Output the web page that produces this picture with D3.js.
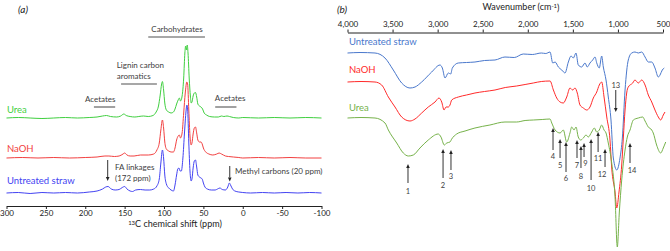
<!DOCTYPE html>
<html><head><meta charset="utf-8">
<script src="https://cdn.jsdelivr.net/npm/d3@7"></script>
<style>body{margin:0;background:#fff}svg{display:block;font-family:Lato,"Open Sans",sans-serif}</style>
</head><body><svg id="c" width="670" height="251"></svg>
<script>
// ---------- Panel (a): 13C NMR ----------
const nmrNames = ["Urea", "NaOH", "Untreated straw"];
const ppmTicks = [300, 250, 200, 150, 100, 50, 0, -50, -100];
const nmrUrea = [[300,0],[285,0.5],[270,0],[255,-0.5],[240,0],[225,0.5],[210,0],[195,0.5],[185,1],[178,2],[173,2.5],[168,1.5],[160,1],[155,2],[151,4],[148,2.5],[143,1.5],[137,1],[132,1.5],[126,2],[120,1.5],[114,2.5],[110,6],[107,12],[105,22],[103,34],[102,36.5],[100.5,28],[99,15],[97,8],[94,6],[91,5],[88,6],[86,9],[84,14],[82,18],[80.5,20],[79,17],[77,22],[75,40],[73.5,65],[72.5,72],[71.5,68],[70.5,73],[69.5,65],[68,40],[66.5,22],[65.5,15],[64.5,16],[63,22],[61.5,25],[60,25.5],[58.5,21],[57,14],[55,12],[53,11],[51,9],[49,5],[46,3],[42,1.5],[36,1],[31,1],[27,2],[24,1.5],[20,2],[17,1.5],[12,0.5],[5,0],[0,0.5],[-20,0],[-40,0.5],[-60,0],[-80,0.5],[-100,0]];
const nmrNaOH = [[300,0],[280,0.5],[260,0],[240,0.5],[220,0],[200,0.5],[185,1],[175,2],[170,2],[163,1.5],[157,2],[152,4],[150,5],[147,3],[143,2],[138,2],[130,3],[120,3],[113,4],[109,8],[106,15],[104,28],[102,38],[100.5,30],[99,16],[97,9],[94,7],[91,6],[88,6],[86,10],[84,18],[82,22],[80.5,23],[79,20],[77,25],[75,45],[73,65],[71,76],[70,74],[68.5,48],[67,22],[65.5,13],[64.5,15],[63,24],[61.5,30],[60,31],[58.5,25],[57,18],[55,16],[53,16],[51.5,14],[50,10],[47,6],[43,4],[38,3],[33,4],[30,5],[27,4],[22,2],[18,1.5],[12,1],[5,0.5],[0,0],[-20,0.5],[-40,0],[-60,0.5],[-80,0],[-100,0]];
const nmrUntreated = [[300,0],[285,0.5],[270,-0.5],[255,0.5],[240,0],[225,0.5],[210,0],[195,1],[185,2],[178,4],[174,6],[171,6.5],[167,4],[162,3],[157,3.5],[153,5.5],[150,6.5],[147,4],[143,2],[140,1.5],[136,3],[130,3.5],[124,3],[118,3],[113,4],[109,7],[106,14],[104,30],[102,43],[100.5,35],[99,18],[97,9],[94,5],[91,3],[88,2],[86,8],[84,18],[82.5,24],[81,25],[79.5,22],[78,22],[76,35],[74,60],[72,82],[71,88],[70,84],[68.5,50],[67,22],[65.5,12],[64.5,14],[63,25],[61.5,32],[60,33],[58.5,26],[57,18],[55,16],[53,15],[51.5,14],[50,10],[48,6],[45,4],[40,3],[35,3],[32,4],[29,5],[26,3.5],[22,3],[19,6],[17,10],[15.5,8],[13,4],[10,2],[5,1],[0,0.5],[-10,0],[-25,0.5],[-40,0],[-55,0.5],[-70,0],[-85,0.5],[-100,0]];

// ---------- Panel (b): FTIR ----------
const irNames = ["Untreated straw", "NaOH", "Urea"];
const wnTicks = [4000, 3500, 3000, 2500, 2000, 1500, 1000, 500];
const irUntreated = [[4000,197],[3861,197.5],[3695,197],[3584,192],[3492,180],[3399,167],[3307,162],[3251,163],[3177,168],[3066,178],[2974,185],[2948,182],[2918,172],[2882,177],[2855,176],[2837,182],[2771,187],[2680,187.5],[2586,188],[2480,189.5],[2364,190],[2253,193],[2150,192.5],[2050,196],[1950,195.5],[1850,197],[1800,196.5],[1753,198],[1723,187],[1697,188],[1661,183],[1623,180],[1587,177],[1550,188],[1520,194],[1495,192],[1465,197],[1440,185],[1402,183],[1365,187],[1340,183],[1310,187],[1280,190],[1254,193],[1235,187],[1207,182],[1180,194],[1162,183],[1132,170],[1107,153],[1077,130],[1051,92],[1013,80],[977,92],[951,112],[921,160],[885,190],[847,197],[811,198],[774,197],[736,198],[699,193],[663,188],[625,188],[589,182],[552,173],[533,175],[508,180],[486,182]];
const irNaOH = [[4000,168],[3850,168.5],[3695,168],[3621,165],[3547,153],[3473,143],[3399,133],[3307,129],[3251,131],[3177,137],[3104,143],[3029,148],[2985,152],[2955,148],[2929,140],[2907,143],[2882,143],[2863,145],[2844,150],[2771,153],[2680,155],[2586,157],[2480,158.5],[2364,160],[2250,162.5],[2123,164],[2030,165.5],[1939,167],[1850,168.5],[1753,169],[1716,160],[1679,152],[1642,148],[1606,147],[1568,153],[1532,162],[1502,160],[1476,162],[1451,157],[1421,145],[1384,142],[1346,140],[1310,143],[1273,152],[1235,158],[1207,165],[1180,168],[1154,153],[1124,133],[1088,110],[1069,82],[1032,58],[1013,42],[988,58],[958,85],[940,112],[921,140],[903,157],[885,163],[836,167],[811,170],[774,167],[736,170],[699,165],[663,155],[625,148],[589,140],[552,133],[525,130],[497,135],[478,138]];
const irUrea = [[4000,132],[3850,132.5],[3695,132],[3584,127],[3547,120],[3454,107],[3381,97],[3325,94],[3270,95],[3196,102],[3104,110],[2993,116],[2963,113],[2926,105],[2899,107],[2863,108],[2844,111],[2789,116],[2696,119],[2586,122],[2420,125],[2253,128],[2123,128],[2030,129.5],[1939,130],[1840,130.5],[1753,131],[1734,127],[1697,120],[1642,117],[1606,120],[1568,108],[1532,117],[1513,123],[1487,120],[1465,123],[1440,113],[1413,110],[1384,112],[1354,115],[1329,113],[1291,118],[1262,122],[1235,118],[1207,120],[1180,125],[1154,120],[1132,117],[1107,107],[1069,87],[1032,53],[1007,3],[985,37],[958,70],[921,100],[896,113],[866,120],[829,130],[774,132],[725,133],[699,129],[663,123],[625,120],[608,117],[571,105],[525,97],[497,102],[470,108]];
// band markers: number, wavenumber, tip, tail, label level (same units as spectra)
const irBands = [
  [1,3329,86,67,59],[2,2940,101,72,65],[3,2852,100,80,74],[4,1720,122,100,94],
  [5,1642,111,92,85],[6,1576,108,78,72],[7,1454,110,92,85],[8,1410,104,82,74],
  [9,1376,107,93,87],[10,1298,111,70,62],[11,1220,118,98,92],[12,1143,101,83,76],
  [13,1024,138,160,165],[14,866,107,87,80]
];

const svg = d3.select("#c");
const textCol = "#404040";

// ===== Panel (a) =====
const xa = d3.scaleLinear().domain([300, -100]).range([6.5, 321.5]);
const ya = d3.scaleLinear().domain([0, 200]).range([230, 30]);
const nmrOffsets = [112, 72, 37];
const nmrColors = ["#3fcf3f", "#f24040", "#4343f2"];
const nmrData = [nmrUrea, nmrNaOH, nmrUntreated];
const ga = svg.append("g");
const lineA = (off) => d3.line().x(d => xa(d[0])).y(d => ya(d[1] + off)).curve(d3.curveMonotoneX);
nmrData.forEach((s, i) => {
  ga.append("path").attr("d", lineA(nmrOffsets[i])(s)).attr("fill", "none")
    .attr("stroke", nmrColors[i]).attr("stroke-width", 1);
});
const nmrLabelY = [110, 149, 181];
nmrNames.forEach((n, i) => {
  ga.append("text").attr("x", 7).attr("y", nmrLabelY[i]).attr("dy", "0.35em")
    .attr("font-size", 9.5).attr("fill", nmrColors[i]).text(n);
});
const axA = ga.append("g").attr("transform", "translate(0,206)")
  .call(d3.axisBottom(xa).tickValues(ppmTicks).tickFormat(d => String(d)).tickSize(3).tickSizeOuter(0).tickPadding(2));
axA.select(".domain").attr("stroke", "#222");
axA.selectAll(".tick line").attr("stroke", "#222");
axA.selectAll(".tick text").attr("font-size", 8).attr("fill", "#222").attr("font-family", "Lato").attr("dy", "0.6em");
const ttlA = ga.append("text").attr("x", 175).attr("y", 226.5).attr("dy", "0.35em")
  .attr("text-anchor", "middle").attr("font-size", 9).attr("fill", "#222");
ttlA.append("tspan").attr("font-size", 6).attr("dy", "-0.2em").text("13");
ttlA.append("tspan").attr("dy", "0.2em").text("C chemical shift (ppm)");
ga.append("text").attr("x", 18).attr("y", 9).attr("dy", "0.35em").attr("font-size", 10)
  .attr("font-style", "italic").attr("fill", "#222").text("(a)");

function grayBar(g, x1, x2, y) {
  g.append("line").attr("x1", x1).attr("x2", x2).attr("y1", y).attr("y2", y)
    .attr("stroke", "#8a8a8a").attr("stroke-width", 1.6);
}
function txt(g, x, y, s, anchor, size) {
  g.append("text").attr("x", x).attr("y", y).attr("dy", "0.35em").attr("text-anchor", anchor || "start")
    .attr("font-size", size || 8).attr("fill", textCol).text(s);
}
function arrow(g, x, yTail, yTip) {
  const dir = yTip > yTail ? 1 : -1, hl = 4, hw = 1.8;
  g.append("line").attr("x1", x).attr("x2", x).attr("y1", yTail).attr("y2", yTip - dir * hl)
    .attr("stroke", "#333").attr("stroke-width", 1);
  g.append("path").attr("d", `M${x},${yTip}L${x - hw},${yTip - dir * hl}L${x + hw},${yTip - dir * hl}Z`).attr("fill", "#222");
}
// annotations (a)
txt(ga, xa(83.5), 29, "Carbohydrates", "middle");
grayBar(ga, xa(120), xa(48), 37);
txt(ga, xa(160), 65, "Lignin carbon");
txt(ga, xa(160), 76, "aromatics");
grayBar(ga, xa(154.5), xa(109), 84);
txt(ga, xa(181), 99, "Acetates", "middle");
grayBar(ga, xa(189), xa(162), 107);
txt(ga, xa(16), 98, "Acetates", "middle");
grayBar(ga, xa(35), xa(8), 107);
arrow(ga, xa(171.5), 160, 181);
txt(ga, 115, 167, "FA linkages");
txt(ga, 115, 178, "(172 ppm)");
arrow(ga, xa(16.5), 166, 181.5);
txt(ga, 235, 171.5, "Methyl carbons (20 ppm)");

// ===== Panel (b) =====
const xb = d3.scaleLinear().domain([4000, 500]).range([347.5, 663]);
const yb = d3.scaleLinear().domain([0, 250]).range([250, 0]);
const irColors = ["#4a78cc", "#ff2a2a", "#76b24a"];
const irData = [irUntreated, irNaOH, irUrea];
const gb = svg.append("g");
const lineB = d3.line().x(d => xb(d[0])).y(d => yb(d[1])).curve(d3.curveMonotoneX);
irData.forEach((s, i) => {
  gb.append("path").attr("d", lineB(s)).attr("fill", "none").attr("stroke", irColors[i]).attr("stroke-width", 1);
});
const irLabelY = [42, 70, 108];
irNames.forEach((n, i) => {
  gb.append("text").attr("x", 349).attr("y", irLabelY[i]).attr("dy", "0.35em")
    .attr("font-size", 9.5).attr("fill", irColors[i]).text(n);
});
const axB = gb.append("g").attr("transform", "translate(0,32.5)")
  .call(d3.axisTop(xb).tickValues(wnTicks).tickFormat(d3.format(",")).tickSize(3).tickSizeOuter(0));
axB.select(".domain").attr("stroke", "#222");
axB.selectAll(".tick line").attr("stroke", "#222");
axB.selectAll(".tick text").attr("font-size", 8).attr("fill", "#222").attr("font-family", "Lato").attr("dy", "0.1em");
const ttlB = gb.append("text").attr("x", 521).attr("y", 7).attr("dy", "0.35em")
  .attr("text-anchor", "middle").attr("font-size", 9).attr("fill", "#222");
ttlB.append("tspan").text("Wavenumber (cm");
ttlB.append("tspan").attr("font-size", 6).attr("dy", "-0.35em").text("-1");
ttlB.append("tspan").attr("dy", "0.35em").text(")");
gb.append("text").attr("x", 337).attr("y", 9).attr("dy", "0.35em").attr("font-size", 10)
  .attr("font-style", "italic").attr("fill", "#222").text("(b)");
const labelShift = {9: 1.5, 12: -3, 14: 2};
irBands.forEach(([n, wn, tip, tail, lab]) => {
  const x = xb(wn);
  arrow(gb, x, yb(tail), yb(tip));
  txt(gb, x + (labelShift[n] || 0), yb(lab), String(n), "middle", 7.5);
});
</script></body></html>
